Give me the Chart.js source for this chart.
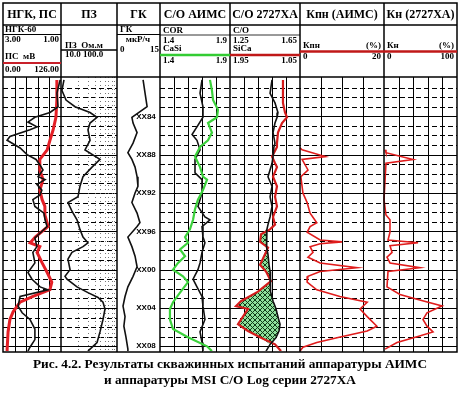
<!DOCTYPE html>
<html>
<head>
<meta charset="utf-8">
<script src="https://cdn.jsdelivr.net/npm/chart.js@4.4.0/dist/chart.umd.min.js"></script>
<style>
  html, body { margin: 0; padding: 0; background: #fff; }
  canvas { display: block; }
</style>
</head>
<body>
<canvas id="log" width="460" height="393"></canvas>
<script>
// depth axis
const depthMin = 80, depthMax = 108.5;
const depthTicks = [84, 88, 92, 96, 100, 104, 108];
const depthLabels = ['XX84', 'XX88', 'XX92', 'XX96', 'XX00', 'XX04', 'XX08'];

const trackTitles = ['НГК, ПС', 'ПЗ', 'ГК', 'C/O АИМС', 'C/O 2727ХА', 'Кпн (АИМС)', 'Кн (2727ХА)'];
const captionLines = ['Рис. 4.2. Результаты скважинных испытаний аппаратуры АИМС', 'и аппаратуры MSI C/O Log серии 2727ХА'];

// НГК-60 (3.00 -> 1.00)
const ngkDepth = [80.2, 81.6, 83.0, 83.6, 84.1, 84.6, 85.1, 85.4, 86.1, 86.5, 87.3, 88.0, 88.5, 89.1, 89.6, 90.3, 90.6, 91.1, 91.7, 92.2, 92.7, 93.4, 94.1, 94.8, 95.5, 96.7, 97.6, 98.2, 99.3, 100.3, 101.0, 101.8, 102.1, 102.8, 103.8, 104.5, 105.2, 106.2, 107.3, 108.1, 108.5];
const ngkValues = [1.03, 1.14, 1.10, 1.38, 1.90, 2.14, 1.83, 2.07, 2.76, 2.86, 2.41, 2.17, 1.86, 1.72, 1.62, 1.79, 1.55, 1.83, 1.66, 1.72, 1.97, 1.90, 1.59, 1.55, 1.48, 1.90, 1.83, 1.97, 1.90, 2.14, 2.00, 1.72, 1.45, 2.41, 2.48, 2.34, 2.07, 1.90, 1.90, 2.07, 2.14];

// ПС, мВ (0 -> 126)
const psDepth = [80.2, 82.3, 84.1, 85.4, 86.5, 87.5, 88.5, 89.6, 90.6, 91.7, 92.7, 93.4, 94.3, 95.5, 96.6, 97.2, 97.6, 98.2, 99.3, 100.3, 101.3, 102.1, 102.8, 103.4, 104.4, 105.2, 106.5, 108.3, 108.5];
const psValues = [117, 117, 115, 109, 102, 96, 80, 80, 87, 80, 85, 91, 91, 98, 70, 59, 80, 74, 85, 96, 106, 102, 65, 37, 22, 15, 11, 9, 9];

// ПЗ, Ом.м (10 -> 100, log)
const pzDepth = [80.2, 81.3, 82.3, 83.0, 83.6, 84.1, 84.7, 85.4, 86.5, 87.5, 88.5, 89.3, 90.3, 91.3, 92.4, 93.0, 93.9, 94.8, 95.8, 96.6, 97.2, 97.6, 98.2, 98.9, 100.0, 100.7, 101.0, 101.8, 102.4, 102.9, 103.4, 104.1, 105.2, 106.5, 107.6, 108.3, 108.5];
const pzValues = [11.3, 10.4, 12.3, 17.8, 33, 44, 33, 30.3, 33, 26.8, 49.7, 35.8, 24.7, 21.8, 20.1, 13.3, 15.7, 19.3, 21.8, 24.7, 30.3, 24.7, 15.7, 13.3, 14.5, 11.8, 12.8, 19.3, 30.3, 45.8, 56.2, 61.1, 56.2, 49.7, 44, 33, 30.3];

// ГК, мкР/ч (0 -> 15)
const gkDepth = [80.2, 81.6, 83.0, 84.1, 84.7, 85.7, 86.8, 87.8, 88.5, 89.3, 90.3, 91.3, 92.0, 93.0, 94.1, 95.1, 95.5, 96.6, 97.6, 98.6, 99.7, 100.7, 101.8, 102.8, 103.8, 104.9, 105.9, 107.0, 108.3, 108.5];
const gkValues = [9.1, 9.8, 10.5, 5.2, 5.6, 7.0, 5.6, 3.8, 5.2, 6.3, 7.0, 7.3, 6.3, 5.2, 7.0, 8.0, 7.0, 3.8, 5.2, 6.3, 7.0, 5.6, 3.8, 2.8, 2.1, 2.8, 2.4, 3.1, 3.8, 3.8];

// C/O АИМС: COR and CaSi (1.4 -> 1.9)
const corDepth = [80.2, 81.6, 83.0, 84.1, 85.1, 85.9, 86.5, 87.5, 88.5, 89.9, 90.6, 92.0, 93.4, 94.5, 94.8, 95.5, 96.6, 97.2, 98.2, 99.3, 100.0, 101.0, 101.8, 102.8, 103.8, 105.2, 106.5, 107.6, 108.5];
const corValues = [1.70, 1.686, 1.707, 1.707, 1.664, 1.629, 1.664, 1.686, 1.65, 1.65, 1.70, 1.70, 1.671, 1.721, 1.757, 1.70, 1.707, 1.721, 1.70, 1.686, 1.671, 1.636, 1.664, 1.70, 1.707, 1.721, 1.686, 1.70, 1.707];
const casiDepth = [80.2, 81.3, 82.3, 83.3, 84.1, 84.7, 85.7, 86.5, 87.2, 88.2, 89.3, 90.3, 90.6, 91.7, 92.7, 93.7, 94.8, 95.8, 96.6, 97.2, 97.9, 98.6, 99.3, 100.0, 100.7, 101.3, 102.4, 103.4, 104.1, 105.2, 106.2, 107.0, 108.0, 108.5];
const casiValues = [1.757, 1.771, 1.779, 1.814, 1.807, 1.743, 1.771, 1.743, 1.686, 1.65, 1.686, 1.707, 1.736, 1.707, 1.671, 1.65, 1.636, 1.614, 1.579, 1.60, 1.543, 1.579, 1.529, 1.493, 1.564, 1.60, 1.543, 1.493, 1.471, 1.471, 1.493, 1.593, 1.736, 1.771];

// C/O 2727ХА: C/O (1.25 -> 1.65) and SiCa (1.95 -> 1.05), same depths
const coDepth = [80.2, 81.6, 82.6, 83.6, 84.1, 84.7, 85.7, 86.8, 87.2, 87.8, 88.2, 88.9, 89.3, 90.3, 91.3, 92.4, 93.4, 94.5, 95.3, 95.8, 96.3, 97.1, 97.7, 98.4, 99.5, 100.2, 101.2, 102.3, 103.3, 103.8, 104.1, 104.9, 105.7, 106.4, 107.1, 107.8, 108.5];
const coValues = [1.49, 1.479, 1.507, 1.524, 1.519, 1.507, 1.496, 1.507, 1.501, 1.496, 1.496, 1.49, 1.484, 1.467, 1.49, 1.479, 1.49, 1.479, 1.467, 1.461, 1.456, 1.461, 1.461, 1.467, 1.473, 1.479, 1.479, 1.484, 1.496, 1.507, 1.513, 1.524, 1.536, 1.53, 1.513, 1.479, 1.456];
const sicaValues = [1.269, 1.269, 1.269, 1.243, 1.217, 1.281, 1.333, 1.346, 1.346, 1.384, 1.41, 1.371, 1.346, 1.397, 1.346, 1.371, 1.346, 1.397, 1.371, 1.436, 1.551, 1.564, 1.461, 1.5, 1.564, 1.487, 1.423, 1.59, 1.809, 1.873, 1.719, 1.783, 1.847, 1.719, 1.551, 1.371, 1.294];

// Кпн АИМС, % (0 -> 20)
const kpnDepth = [87.3, 87.5, 88.2, 88.5, 89.6, 90.3, 92.0, 93.0, 94.1, 95.1, 95.5, 96.1, 96.9, 97.1, 97.3, 97.6, 98.2, 98.7, 99.3, 99.8, 100.2, 100.7, 101.3, 102.1, 102.8, 103.4, 104.1, 104.9, 105.9, 106.4, 107.1, 107.6, 108.1, 108.5];
const kpnValues = [0, 0.5, 6.0, 0.5, 1.9, 0.2, 0.7, 1.7, 2.4, 4.0, 2.4, 1.7, 4.8, 10.0, 4.8, 2.4, 3.1, 1.9, 4.8, 13.6, 4.8, 1.9, 1.7, 4.0, 9.5, 16.0, 14.3, 16.0, 18.3, 16.0, 8.8, 4.0, 0.7, 0];

// Кн 2727ХА, % (0 -> 100)
const knDepth = [87.5, 87.8, 88.5, 88.9, 92.7, 94.3, 94.8, 96.1, 96.9, 97.2, 97.5, 98.2, 98.7, 99.3, 99.8, 100.2, 101.8, 102.6, 103.1, 103.8, 104.5, 105.2, 105.9, 106.5, 107.0, 107.6, 108.3];
const knValues = [1.4, 2.7, 39.7, 2.7, 0, 2.7, 8.2, 8.2, 5.5, 46.6, 8.2, 11.0, 4.1, 8.2, 49.3, 5.5, 4.1, 21.9, 45.2, 79.5, 58.9, 53.4, 58.9, 67.1, 45.2, 17.8, 1.4];

// ---- layout (pixels) ----
const L = 3, R = 457, TOP = 3, HEAD = 77, BOT = 352;
const trackEdges = [3, 61, 117, 160, 230, 300, 384, 457];
const serif = '"Liberation Serif", "DejaVu Serif", serif';

// a track occupies [p0, p1] of the plot; stretch the scale so a->p0 and b->p1
function linTrack(a, b, p0, p1) {
  const k = (b - a) / (p1 - p0);
  const vL = a + (L - p0) * k, vR = a + (R - p0) * k;
  return { type: 'linear', display: false, bounds: 'data', grace: 0,
    min: Math.min(vL, vR), max: Math.max(vL, vR), reverse: vL > vR };
}
function logTrack(a, b, p0, p1) {
  const la = Math.log10(a), k = (Math.log10(b) - la) / (p1 - p0);
  return { type: 'logarithmic', display: false, bounds: 'data',
    min: Math.pow(10, la + (L - p0) * k), max: Math.pow(10, la + (R - p0) * k) };
}

const pts = (depth, vals) => depth.map((d, i) => ({ x: vals[i], y: d }));
const curve = (label, axis, depth, vals, color, width) => ({
  label, xAxisID: axis, data: pts(depth, vals), showLine: true,
  borderColor: color, borderWidth: width, pointRadius: 0, tension: 0, fill: false
});

// cross-hatch for the C/O 2727ХА anomaly
const hatch = (() => {
  const c = document.createElement('canvas');
  c.width = c.height = 5;
  const g = c.getContext('2d');
  g.fillStyle = '#8fe09c'; g.fillRect(0, 0, 5, 5);
  g.strokeStyle = '#103a18'; g.lineWidth = 1;
  g.beginPath(); g.moveTo(0, 0); g.lineTo(5, 5); g.moveTo(5, 0); g.lineTo(0, 5); g.stroke();
  return g.createPattern(c, 'repeat');
})();

function text(ctx, s, x, y, align, font, color) {
  ctx.font = font; ctx.textAlign = align; ctx.textBaseline = 'middle';
  ctx.fillStyle = color || '#000'; ctx.fillText(s, x, y);
}
function hline(ctx, x0, x1, y, color, w) {
  ctx.strokeStyle = color; ctx.lineWidth = w;
  ctx.beginPath(); ctx.moveTo(x0, y); ctx.lineTo(x1, y); ctx.stroke();
}

const logFrame = {
  id: 'logFrame',
  beforeDatasetsDraw(chart) {
    const { ctx, scales } = chart;
    const ys = scales.y;
    ctx.save();
    // depth lines, none in the ГК track
    ctx.strokeStyle = '#000'; ctx.lineWidth = 1;
    for (let d = Math.ceil(depthMin) + 1; d <= depthMax; d++) {
      const y = Math.round(ys.getPixelForValue(d)) + 0.5;
      ctx.setLineDash(d % 4 === 0 ? [] : [5, 3]);
      ctx.beginPath();
      ctx.moveTo(L, y); ctx.lineTo(trackEdges[2], y);
      ctx.moveTo(trackEdges[3], y); ctx.lineTo(R, y);
      ctx.stroke();
    }
    ctx.setLineDash([]);
    const vgrid = (axis, values, dash, color) => {
      ctx.setLineDash(dash); ctx.strokeStyle = color;
      values.forEach(v => {
        const x = Math.round(scales[axis].getPixelForValue(v)) + 0.5;
        ctx.beginPath(); ctx.moveTo(x, HEAD); ctx.lineTo(x, BOT); ctx.stroke();
      });
    };
    vgrid('xNgk', [2.6, 2.2, 1.8, 1.4], [], '#000');
    vgrid('xPz', [20, 30, 40, 50, 60, 70, 80, 90], [1, 3], '#777');
    vgrid('xCor', [1.5, 1.6, 1.7, 1.8], [], '#000');
    vgrid('xCo', [1.33, 1.41, 1.49, 1.57], [], '#000');
    vgrid('xKpn', [5, 10, 15], [], '#000');
    vgrid('xKn', [20, 40, 60, 80], [], '#000');
    ctx.setLineDash([]);

    // hatch where SiCa is left of C/O
    const mo = chart.getDatasetMeta(6).data, ms = chart.getDatasetMeta(7).data;
    ctx.beginPath();
    mo.forEach((p, i) => i ? ctx.lineTo(p.x, p.y) : ctx.moveTo(p.x, p.y));
    for (let i = ms.length - 1; i >= 0; i--) ctx.lineTo(Math.min(ms[i].x, mo[i].x), ms[i].y);
    ctx.closePath();
    ctx.fillStyle = hatch; ctx.fill();
    ctx.restore();
  },
  afterDatasetsDraw(chart) {
    const { ctx, scales } = chart;
    ctx.save();
    ctx.fillStyle = '#fff';
    ctx.fillRect(L, TOP, R - L, HEAD - TOP);
    // frame
    ctx.strokeStyle = '#000'; ctx.lineWidth = 1.5;
    ctx.strokeRect(L, TOP, R - L, BOT - TOP);
    trackEdges.slice(1, -1).forEach(x => {
      ctx.beginPath(); ctx.moveTo(x, TOP); ctx.lineTo(x, BOT); ctx.stroke();
    });
    hline(ctx, L, R, 25, '#000', 1.5);
    hline(ctx, L, R, HEAD, '#000', 1.5);

    const big = 'bold 12px ' + serif, sm = 'bold 9px ' + serif;
    trackTitles.forEach((t, i) => text(ctx, t, (trackEdges[i] + trackEdges[i + 1]) / 2, 14.5, 'center', big));

    // НГК, ПС
    text(ctx, 'НГК-60', 5, 30, 'left', sm);
    hline(ctx, 3, 61, 34.5, '#000', 1);
    text(ctx, '3.00', 5, 40, 'left', sm); text(ctx, '1.00', 59, 40, 'right', sm);
    text(ctx, 'ПС  мВ', 5, 57, 'left', sm);
    hline(ctx, 3, 61, 63, '#c8202a', 2);
    text(ctx, '0.00', 5, 69.5, 'left', sm); text(ctx, '126.00', 59, 69.5, 'right', sm);
    // ПЗ
    text(ctx, 'ПЗ  Ом.м', 65, 45.5, 'left', sm);
    hline(ctx, 61, 117, 50, '#000', 1.5);
    text(ctx, '10.0', 65, 55, 'left', sm); text(ctx, '100.0', 83, 55, 'left', sm);
    // ГК
    text(ctx, 'ГК', 120, 30, 'left', sm);
    hline(ctx, 117, 160, 34.5, '#000', 1);
    text(ctx, 'мкР/ч', 138, 40, 'center', sm);
    text(ctx, '0', 120, 50, 'left', sm); text(ctx, '15', 159, 50, 'right', sm);
    // C/O АИМС
    text(ctx, 'COR', 163, 31, 'left', sm);
    hline(ctx, 160, 230, 35, '#000', 0.8);
    text(ctx, '1.4', 163, 41, 'left', sm); text(ctx, '1.9', 227, 41, 'right', sm);
    text(ctx, 'CaSi', 163, 49, 'left', sm);
    hline(ctx, 160, 230, 55, '#33cc33', 2.5);
    text(ctx, '1.4', 163, 60.5, 'left', sm); text(ctx, '1.9', 227, 60.5, 'right', sm);
    // C/O 2727ХА
    text(ctx, 'C/O', 233, 31, 'left', sm);
    hline(ctx, 230, 300, 35, '#000', 0.8);
    text(ctx, '1.25', 233, 41, 'left', sm); text(ctx, '1.65', 297, 41, 'right', sm);
    text(ctx, 'SiCa', 233, 49, 'left', sm);
    hline(ctx, 230, 300, 55, '#c01818', 2.5);
    text(ctx, '1.95', 233, 60.5, 'left', sm); text(ctx, '1.05', 297, 60.5, 'right', sm);
    // Кпн, Кн
    text(ctx, 'Кпн', 303, 46, 'left', sm); text(ctx, '(%)', 381, 46, 'right', sm);
    text(ctx, 'Кн', 387, 46, 'left', sm); text(ctx, '(%)', 454, 46, 'right', sm);
    hline(ctx, 300, 457, 51.5, '#c01818', 2.5);
    text(ctx, '0', 303, 57, 'left', sm); text(ctx, '20', 381, 57, 'right', sm);
    text(ctx, '0', 387, 57, 'left', sm); text(ctx, '100', 454, 57, 'right', sm);

    // depth marks in the ГК track
    depthTicks.forEach((d, i) => {
      text(ctx, depthLabels[i], 146, scales.y.getPixelForValue(d), 'center', 'bold 8px "Liberation Sans", sans-serif');
    });
    ctx.restore();
  }
};

const te = trackEdges;
new Chart(document.getElementById('log'), {
  type: 'scatter',
  data: {
    datasets: [
      curve('НГК', 'xNgk', ngkDepth, ngkValues, '#111', 1.6),
      curve('ПС', 'xPs', psDepth, psValues, '#e41f26', 3),
      curve('ПЗ', 'xPz', pzDepth, pzValues, '#111', 1.6),
      curve('ГК', 'xGk', gkDepth, gkValues, '#111', 1.6),
      curve('CaSi', 'xCor', casiDepth, casiValues, '#3cd23c', 2.2),
      curve('COR', 'xCor', corDepth, corValues, '#111', 1.6),
      curve('C/O', 'xCo', coDepth, coValues, '#111', 1.6),
      curve('SiCa', 'xSica', coDepth, sicaValues, '#d41c1c', 2.2),
      curve('Кпн', 'xKpn', kpnDepth, kpnValues, '#e01c1c', 1.6),
      curve('Кн', 'xKn', knDepth, knValues, '#e01c1c', 1.6)
    ]
  },
  options: {
    responsive: false,
    animation: false,
    layout: { padding: { left: L, right: 460 - R, top: HEAD + 1, bottom: 0 } },
    scales: {
      y: { type: 'linear', display: false, min: depthMin, max: depthMax, reverse: true },
      xNgk: linTrack(3.0, 1.0, te[0], te[1]),
      xPs: linTrack(0, 126, te[0], te[1]),
      xPz: logTrack(10, 100, te[1], te[2]),
      xGk: linTrack(0, 15, te[2], te[3]),
      xCor: linTrack(1.4, 1.9, te[3], te[4]),
      xCo: linTrack(1.25, 1.65, te[4], te[5]),
      xSica: linTrack(1.95, 1.05, te[4], te[5]),
      xKpn: linTrack(0, 20, te[5], te[6]),
      xKn: linTrack(0, 100, te[6], te[7])
    },
    plugins: {
      legend: { display: false },
      tooltip: { enabled: false },
      title: {
        display: true, position: 'bottom', text: captionLines, color: '#000',
        font: { family: serif, size: 13.3, weight: 'bold' },
        padding: { top: 6, bottom: 4 }
      }
    }
  },
  plugins: [logFrame]
});
</script>
</body>
</html>
